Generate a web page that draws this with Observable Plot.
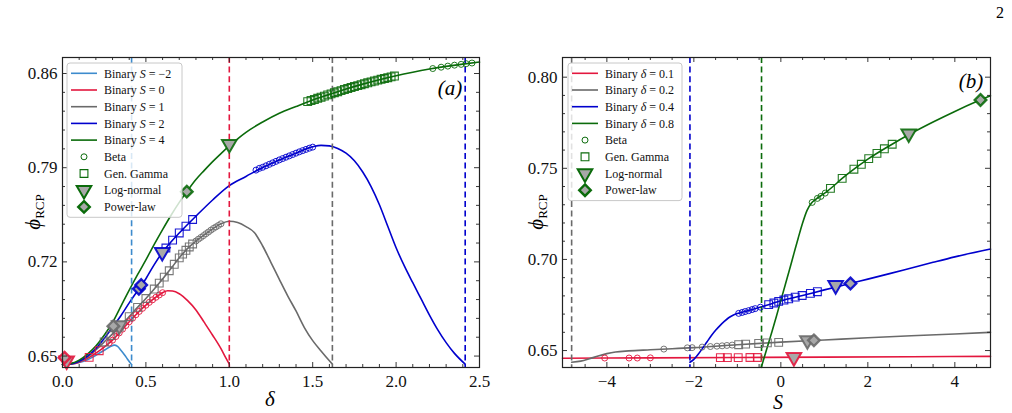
<!DOCTYPE html>
<html><head><meta charset="utf-8">
<script src="https://cdn.jsdelivr.net/npm/d3@7"></script>
<script src="https://cdn.jsdelivr.net/npm/@observablehq/plot@0.6"></script>
<style>
body{margin:0;background:#fff;}
#wrap{position:relative;width:1012px;height:413px;overflow:hidden;font-family:"Liberation Serif",serif;}
</style></head><body><div id="wrap"></div>
<script>
// ---------- Panel (a): phi_RCP vs delta ----------
const curveSm2 = [[0,0.6437],[0.05,0.6440],[0.1,0.6452],[0.15,0.6473],[0.19,0.6499],[0.25,0.6543],[0.29,0.6573],[0.31,0.6581],[0.33,0.6572],[0.35,0.6543],[0.37,0.6512],[0.39,0.6477],[0.414,0.6437]];
const curveS0 = [[0,0.6437],[0.05,0.6441],[0.1,0.6455],[0.15,0.6483],[0.2,0.6522],[0.25,0.6567],[0.3,0.6618],[0.35,0.6686],[0.4,0.6755],[0.45,0.6820],[0.5,0.6878],[0.55,0.6928],[0.6,0.6971],[0.63,0.6985],[0.66,0.6983],[0.7,0.6963],[0.75,0.6912],[0.8,0.6843],[0.85,0.6750],[0.9,0.6655],[0.95,0.6555],[0.98,0.6485],[1.0,0.6440]];
const curveS1 = [[0,0.6437],[0.05,0.6442],[0.1,0.6460],[0.15,0.6493],[0.2,0.6545],[0.25,0.6605],[0.3,0.6665],[0.35,0.6728],[0.4,0.6793],[0.45,0.6862],[0.5,0.6928],[0.55,0.6998],[0.6,0.7072],[0.65,0.7150],[0.7,0.7230],[0.75,0.7300],[0.8,0.7355],[0.85,0.7400],[0.9,0.7445],[0.95,0.7483],[1.0,0.7502],[1.05,0.7492],[1.1,0.7462],[1.15,0.7418],[1.2,0.7318],[1.25,0.7195],[1.3,0.7070],[1.35,0.6948],[1.4,0.6835],[1.45,0.6712],[1.5,0.6615],[1.55,0.6538],[1.6,0.6465],[1.618,0.6440]];
const curveS2 = [[0,0.6437],[0.05,0.6442],[0.1,0.6462],[0.15,0.6500],[0.2,0.6556],[0.25,0.6630],[0.3,0.6715],[0.35,0.6800],[0.4,0.6895],[0.45,0.6985],[0.5,0.7075],[0.55,0.7180],[0.6,0.7272],[0.65,0.7348],[0.7,0.7415],[0.8,0.7540],[0.9,0.7660],[1.0,0.7767],[1.1,0.7835],[1.2,0.7902],[1.3,0.7958],[1.4,0.8008],[1.5,0.8055],[1.55,0.8066],[1.6,0.8062],[1.65,0.8043],[1.7,0.8008],[1.75,0.7952],[1.8,0.7868],[1.85,0.7760],[1.9,0.7625],[1.95,0.7465],[2.0,0.7305],[2.05,0.7168],[2.1,0.7045],[2.15,0.6925],[2.2,0.6805],[2.25,0.6695],[2.3,0.6600],[2.35,0.6520],[2.414,0.6440]];
const curveS4 = [[0,0.6437],[0.05,0.6445],[0.1,0.6470],[0.15,0.6515],[0.2,0.6575],[0.25,0.6655],[0.3,0.6750],[0.35,0.6870],[0.4,0.6990],[0.45,0.7105],[0.5,0.7215],[0.55,0.7330],[0.6,0.7440],[0.65,0.7545],[0.7,0.7642],[0.75,0.7730],[0.8,0.7812],[0.85,0.7880],[0.9,0.7945],[0.95,0.8005],[1.0,0.8062],[1.05,0.8115],[1.1,0.8163],[1.2,0.8240],[1.3,0.8305],[1.4,0.8355],[1.5,0.8403],[1.6,0.8445],[1.7,0.8485],[1.8,0.8521],[1.9,0.8554],[2.0,0.8584],[2.1,0.8610],[2.2,0.8633],[2.3,0.8653],[2.4,0.8670],[2.5,0.8685]];

const betaS0 = [[0.28,0.6597],[0.30,0.6618],[0.32,0.6645],[0.34,0.6672],[0.36,0.6700],[0.38,0.6727],[0.40,0.6755],[0.42,0.6781],[0.44,0.6807],[0.46,0.6832],[0.48,0.6855],[0.50,0.6878],[0.52,0.6899],[0.54,0.6918],[0.56,0.6937],[0.58,0.6954],[0.60,0.6971]];
const gammaS0 = [[0.16,0.6490],[0.22,0.6540]];
const lognS0 = [[0.025,0.6466]];
const powerS0 = [[0.012,0.6488]];
const betaS1 = [[0.80,0.7355],[0.815,0.7369],[0.83,0.7382],[0.845,0.7395],[0.86,0.7409],[0.875,0.7422],[0.89,0.7436],[0.905,0.7449],[0.92,0.7460],[0.935,0.7471],[0.95,0.7483]];
const gammaS1 = [[0.25,0.6605],[0.29,0.6653],[0.34,0.6715],[0.40,0.6793],[0.45,0.6862],[0.50,0.6928],[0.55,0.6998],[0.58,0.7042],[0.61,0.7087],[0.64,0.7134],[0.67,0.7182],[0.70,0.7230],[0.72,0.7258],[0.74,0.7286],[0.76,0.7311],[0.78,0.7333]];
const lognS1 = [[0.34,0.6727]];
const powerS1 = [[0.305,0.6722]];
const betaS2 = [[1.16,0.7882],[1.18,0.7895],[1.20,0.7903],[1.22,0.7914],[1.24,0.7925],[1.26,0.7936],[1.28,0.7947],[1.30,0.7958],[1.32,0.7968],[1.34,0.7978],[1.36,0.7988],[1.38,0.7998],[1.40,0.8008],[1.42,0.8018],[1.44,0.8027],[1.46,0.8036],[1.48,0.8045],[1.50,0.8053]];
const gammaS2 = [[0.62,0.7303],[0.66,0.7362],[0.70,0.7415],[0.74,0.7465],[0.78,0.7515]];
const lognS2 = [[0.598,0.7272]];
const powerS2 = [[0.458,0.7000],[0.472,0.7028]];
const betaS4 = [[2.22,0.8637],[2.27,0.8647],[2.31,0.8655],[2.35,0.8662],[2.39,0.8668],[2.42,0.8673],[2.455,0.8678]];
const gammaS4 = [[1.47,0.8391],[1.49,0.8399],[1.51,0.8407],[1.53,0.8416],[1.55,0.8424],[1.57,0.8432],[1.59,0.8441],[1.61,0.8449],[1.63,0.8457],[1.65,0.8465],[1.67,0.8473],[1.69,0.8481],[1.71,0.8489],[1.73,0.8496],[1.75,0.8503],[1.77,0.8510],[1.79,0.8517],[1.81,0.8524],[1.83,0.8531],[1.85,0.8538],[1.87,0.8544],[1.89,0.8551],[1.91,0.8557],[1.93,0.8563],[1.95,0.8569],[1.97,0.8575],[1.99,0.8581]];
const lognS4 = [[1.0,0.8075]];
const powerS4 = [[0.745,0.7722]];
const critDelta = [0.4142, 1.0, 1.618, 2.4142];   // dashed lines S=-2,0,1,2

const aXMajor = [0, 0.5, 1.0, 1.5, 2.0, 2.5];
const aXMinor = [0.1,0.2,0.3,0.4,0.6,0.7,0.8,0.9,1.1,1.2,1.3,1.4,1.6,1.7,1.8,1.9,2.1,2.2,2.3,2.4];
const aYMajor = [0.65, 0.72, 0.79, 0.86];
const aYMinor = [0.664,0.678,0.692,0.706,0.734,0.748,0.762,0.776,0.804,0.818,0.832,0.846];

// ---------- Panel (b): phi_RCP vs S ----------
const curveD01 = [[-5.02,0.6458],[-3,0.6460],[-1,0.6462],[1,0.6464],[3,0.6466],[4.82,0.6468]];
const curveD02 = [[-4.81,0.6436],[-4.6,0.6442],[-4.4,0.6455],[-4.2,0.6470],[-4.0,0.6483],[-3.8,0.6492],[-3.5,0.6498],[-3.0,0.6504],[-2.5,0.6510],[-2.0,0.6516],[-1.0,0.6532],[0,0.6546],[1,0.6558],[2,0.6570],[3,0.6581],[4,0.6591],[4.82,0.6600]];
const curveD04 = [[-2.09,0.6436],[-2.0,0.6452],[-1.9,0.6480],[-1.8,0.6512],[-1.7,0.6547],[-1.6,0.6581],[-1.5,0.6611],[-1.4,0.6637],[-1.3,0.6660],[-1.2,0.6680],[-1.1,0.6694],[-1.0,0.6703],[-0.8,0.6716],[-0.6,0.6729],[-0.4,0.6743],[-0.2,0.6758],[0,0.6773],[0.5,0.6802],[1.0,0.6833],[1.5,0.6862],[2.0,0.6892],[2.5,0.6922],[3.0,0.6953],[3.5,0.6984],[4.0,0.7014],[4.82,0.7057]];
const curveD08 = [[-0.45,0.6408],[-0.3,0.6528],[-0.2,0.6607],[-0.1,0.6690],[0,0.6775],[0.1,0.6860],[0.2,0.6945],[0.3,0.7032],[0.4,0.7118],[0.5,0.7200],[0.6,0.7268],[0.7,0.7308],[0.8,0.7330],[1.0,0.7362],[1.5,0.7462],[2.0,0.7550],[2.5,0.7624],[3.0,0.7692],[3.5,0.7754],[4.0,0.7812],[4.5,0.7866],[4.82,0.7898]];

const betaD01 = [[-4.05,0.6459],[-3.49,0.6459],[-3.30,0.6459],[-3.00,0.6460]];
const gammaD01 = [[-1.39,0.6461],[-1.23,0.6461],[-0.98,0.6461],[-0.71,0.6462],[-0.54,0.6462]];
const lognD01 = [[0.30,0.6463]];
const betaD02 = [[-2.69,0.6508],[-2.15,0.6515],[-2.04,0.6516],[-1.81,0.6519],[-1.62,0.6522],[-1.47,0.6524],[-1.35,0.6526],[-1.24,0.6528],[-1.12,0.6530]];
const gammaD02 = [[-0.97,0.6532],[-0.81,0.6535],[-0.51,0.6539],[-0.31,0.6542],[-0.05,0.6545]];
const lognD02 = [[0.61,0.6556]];
const powerD02 = [[0.76,0.6556]];
const betaD04 = [[-0.97,0.6704],[-0.89,0.6709],[-0.82,0.6714],[-0.74,0.6719],[-0.66,0.6725],[-0.59,0.6730],[-0.47,0.6738]];
const gammaD04 = [[-0.28,0.6752],[-0.16,0.6761],[-0.05,0.6770],[0.07,0.6777],[0.18,0.6784],[0.33,0.6793],[0.49,0.6802],[0.68,0.6814],[0.84,0.6823]];
const lognD04 = [[1.26,0.6858]];
const powerD04 = [[1.6,0.6868]];
const betaD08 = [[0.72,0.7313],[0.84,0.7335],[0.92,0.7346],[1.02,0.7364]];
const gammaD08 = [[1.14,0.7390],[1.41,0.7445],[1.68,0.7495],[1.85,0.7522],[2.02,0.7553],[2.21,0.7582],[2.38,0.7607],[2.56,0.7632]];
const lognD08 = [[2.94,0.7690]];
const powerD08 = [[4.59,0.7875]];
const critS = [-4.81, -2.09, -0.444];   // dashed lines delta=0.2,0.4,0.8

const bXMajor = [-4, -2, 0, 2, 4];
const bXMinor = [-4.5,-3.5,-3,-2.5,-1.5,-1,-0.5,0.5,1,1.5,2.5,3,3.5,4.5];
const bYMajor = [0.65, 0.70, 0.75, 0.80];
const bYMinor = [0.66,0.67,0.68,0.69,0.71,0.72,0.73,0.74,0.76,0.77,0.78,0.79];

// ---------- styling ----------
const C = {lb:"#3d8bcd", red:"#e3173e", gray:"#6a6a6a", blue:"#0000cd", green:"#0b6b0b"};
const GFILL = "#a8a8a8";
const triDown = {draw(ctx, size){ const h = Math.sqrt(size/(Math.sqrt(3)*3)); const s3 = Math.sqrt(3);
  ctx.moveTo(0, 2*h); ctx.lineTo(-s3*h, -h); ctx.lineTo(s3*h, -h); ctx.closePath(); }};
const ST = {
  beta:  {symbol:"circle", r:3, fill:"none", strokeWidth:1},
  gamma: {symbol:"square", r:4.4, fill:"none", strokeWidth:1.1},
  logn:  {symbol:triDown, r:5.4, fill:GFILL, strokeWidth:2},
  power: {symbol:"diamond2", r:5.2, fill:GFILL, strokeWidth:2.4}
};

const H = 413, MT = 57, MB = 46, FH = H - MT - MB;
function panel(cfg){
  const fw = cfg.width - cfg.ml - cfg.mr;
  const marks = [];
  cfg.curves.forEach(c => marks.push(Plot.line(c.data, {x:d=>d[0], y:d=>d[1], stroke:c.color, strokeWidth:1.6, curve:"monotone-x"})));
  cfg.vlines.forEach(v => marks.push(Plot.ruleX([v.x], {x:d=>d, stroke:v.color, strokeWidth:1.6, strokeDasharray:"6,3.6"})));
  cfg.markers.forEach(m => marks.push(Plot.dot(m.data, {x:d=>d[0], y:d=>d[1], stroke:m.color, strokeOpacity:0.9, ...ST[m.kind]})));
  const tk = {stroke:"#222", strokeWidth:0.9};
  marks.push(Plot.tickX(cfg.xMajor, {x:d=>d, insetTop:FH-5, ...tk}));
  marks.push(Plot.tickX(cfg.xMajor, {x:d=>d, insetBottom:FH-5, ...tk}));
  marks.push(Plot.tickX(cfg.xMinor, {x:d=>d, insetTop:FH-3, ...tk}));
  marks.push(Plot.tickX(cfg.xMinor, {x:d=>d, insetBottom:FH-3, ...tk}));
  marks.push(Plot.tickY(cfg.yMajor, {y:d=>d, insetRight:fw-5, ...tk}));
  marks.push(Plot.tickY(cfg.yMajor, {y:d=>d, insetLeft:fw-5, ...tk}));
  marks.push(Plot.tickY(cfg.yMinor, {y:d=>d, insetRight:fw-3, ...tk}));
  marks.push(Plot.tickY(cfg.yMinor, {y:d=>d, insetLeft:fw-3, ...tk}));
  marks.push(Plot.frame({stroke:"#222", strokeWidth:1.2}));
  const svg = Plot.plot({
    width:cfg.width, height:H, marginLeft:cfg.ml, marginRight:cfg.mr, marginTop:MT, marginBottom:MB,
    x:{domain:cfg.xDomain, ticks:cfg.xMajor, tickFormat:cfg.xFmt, tickSize:0, tickPadding:7, label:null},
    y:{domain:cfg.yDomain, ticks:cfg.yMajor, tickFormat:d3.format(".2f"), tickSize:0, tickPadding:5, label:null},
    style:{fontFamily:'"Liberation Serif", serif', fontSize:"17px", background:"transparent", color:"#111", overflow:"visible"},
    marks
  });
  svg.style.position = "absolute"; svg.style.left = cfg.left + "px"; svg.style.top = "0px";
  document.getElementById("wrap").appendChild(svg);
}

panel({
  left:0, width:500, ml:62, mr:21, xDomain:[0,2.5], yDomain:[0.6415,0.8719],
  xMajor:aXMajor, xMinor:aXMinor, yMajor:aYMajor, yMinor:aYMinor, xFmt:d3.format(".1f"),
  curves:[{data:curveSm2,color:C.lb},{data:curveS0,color:C.red},{data:curveS1,color:C.gray},{data:curveS2,color:C.blue},{data:curveS4,color:C.green}],
  vlines:[{x:critDelta[0],color:C.lb},{x:critDelta[1],color:C.red},{x:critDelta[2],color:C.gray},{x:critDelta[3],color:C.blue}],
  markers:[
    {data:betaS0,color:C.red,kind:"beta"},{data:gammaS0,color:C.red,kind:"gamma"},
    {data:betaS1,color:C.gray,kind:"beta"},{data:gammaS1,color:C.gray,kind:"gamma"},
    {data:betaS2,color:C.blue,kind:"beta"},{data:gammaS2,color:C.blue,kind:"gamma"},
    {data:betaS4,color:C.green,kind:"beta"},{data:gammaS4,color:C.green,kind:"gamma"},
    {data:lognS0,color:C.red,kind:"logn"},{data:powerS0,color:C.red,kind:"power"},
    {data:lognS1,color:C.gray,kind:"logn"},{data:powerS1,color:C.gray,kind:"power"},
    {data:lognS2,color:C.blue,kind:"logn"},{data:powerS2,color:C.blue,kind:"power"},
    {data:lognS4,color:C.green,kind:"logn"},{data:powerS4,color:C.green,kind:"power"}
  ]
});
panel({
  left:500, width:512, ml:62, mr:22, xDomain:[-5.02,4.82], yDomain:[0.6407,0.8108],
  xMajor:bXMajor, xMinor:bXMinor, yMajor:bYMajor, yMinor:bYMinor, xFmt:d3.format("d"),
  curves:[{data:curveD01,color:C.red},{data:curveD02,color:C.gray},{data:curveD04,color:C.blue},{data:curveD08,color:C.green}],
  vlines:[{x:critS[0],color:C.gray},{x:critS[1],color:C.blue},{x:critS[2],color:C.green}],
  markers:[
    {data:betaD01,color:C.red,kind:"beta"},{data:gammaD01,color:C.red,kind:"gamma"},
    {data:betaD02,color:C.gray,kind:"beta"},{data:gammaD02,color:C.gray,kind:"gamma"},
    {data:betaD04,color:C.blue,kind:"beta"},{data:gammaD04,color:C.blue,kind:"gamma"},
    {data:betaD08,color:C.green,kind:"beta"},{data:gammaD08,color:C.green,kind:"gamma"},
    {data:lognD01,color:C.red,kind:"logn"},
    {data:lognD02,color:C.gray,kind:"logn"},{data:powerD02,color:C.gray,kind:"power"},
    {data:lognD04,color:C.blue,kind:"logn"},{data:powerD04,color:C.blue,kind:"power"},
    {data:lognD08,color:C.green,kind:"logn"},{data:powerD08,color:C.green,kind:"power"}
  ]
});

// ---------- overlay: labels & legends ----------
const ov = d3.select("#wrap").append("svg").attr("width",1012).attr("height",413)
  .style("position","absolute").style("left","0px").style("top","0px")
  .style("font-family",'"Liberation Serif", serif');
ov.append("text").attr("x",1004).attr("y",18).attr("text-anchor","end").attr("font-size",16).text("2");
function ylab(x,y){
  const t = ov.append("text").attr("transform",`translate(${x},${y}) rotate(-90)`).attr("text-anchor","middle");
  t.append("tspan").attr("font-style","italic").attr("font-size",21).text("ϕ");
  t.append("tspan").attr("font-size",13).attr("dy",4).text("RCP");
}
ylab(40,212); ylab(543,212);
ov.append("text").attr("x",270).attr("y",406).attr("text-anchor","middle").attr("font-style","italic").attr("font-size",21).text("δ");
ov.append("text").attr("x",778).attr("y",409).attr("text-anchor","middle").attr("font-style","italic").attr("font-size",20).text("S");
ov.append("text").attr("x",450).attr("y",95).attr("text-anchor","middle").attr("font-style","italic").attr("font-size",21).text("(a)");
ov.append("text").attr("x",971).attr("y",88).attr("text-anchor","middle").attr("font-style","italic").attr("font-size",21).text("(b)");

const legendA = [
  {kind:"line",color:C.lb,pre:"Binary ",v:"S",post:" = −2"},
  {kind:"line",color:C.red,pre:"Binary ",v:"S",post:" = 0"},
  {kind:"line",color:C.gray,pre:"Binary ",v:"S",post:" = 1"},
  {kind:"line",color:C.blue,pre:"Binary ",v:"S",post:" = 2"},
  {kind:"line",color:C.green,pre:"Binary ",v:"S",post:" = 4"},
  {kind:"beta",color:C.green,pre:"Beta"},
  {kind:"gamma",color:C.green,pre:"Gen. Gamma"},
  {kind:"logn",color:C.green,pre:"Log-normal"},
  {kind:"power",color:C.green,pre:"Power-law"}
];
const legendB = [
  {kind:"line",color:C.red,pre:"Binary ",v:"δ",post:" = 0.1"},
  {kind:"line",color:C.gray,pre:"Binary ",v:"δ",post:" = 0.2"},
  {kind:"line",color:C.blue,pre:"Binary ",v:"δ",post:" = 0.4"},
  {kind:"line",color:C.green,pre:"Binary ",v:"δ",post:" = 0.8"},
  {kind:"beta",color:C.green,pre:"Beta"},
  {kind:"gamma",color:C.green,pre:"Gen. Gamma"},
  {kind:"logn",color:C.green,pre:"Log-normal"},
  {kind:"power",color:C.green,pre:"Power-law"}
];
const symType = {beta:d3.symbolCircle, gamma:d3.symbolSquare, logn:triDown, power:d3.symbolDiamond2};
function legend(x0,y0,w,entries){
  const g = ov.append("g");
  const h = entries.length*16.7 + 4;
  g.append("rect").attr("x",x0).attr("y",y0).attr("width",w).attr("height",h).attr("rx",3)
    .attr("fill","rgba(255,255,255,0.8)").attr("stroke","#c8c8c8").attr("stroke-width",1);
  entries.forEach((e,i)=>{
    const cy = y0 + 10.3 + i*16.7;
    if (e.kind==="line") {
      g.append("line").attr("x1",x0+4).attr("x2",x0+30).attr("y1",cy).attr("y2",cy).attr("stroke",e.color).attr("stroke-width",1.6);
    } else {
      const st = ST[e.kind];
      g.append("path").attr("d", d3.symbol(symType[e.kind], Math.PI*st.r*st.r)())
        .attr("transform",`translate(${x0+17},${cy})`).attr("fill",st.fill).attr("stroke",e.color).attr("stroke-width",st.strokeWidth);
    }
    const t = g.append("text").attr("x",x0+37).attr("y",cy).attr("dy","0.35em").attr("font-size",12).attr("fill","#111");
    t.append("tspan").text(e.pre);
    if (e.v) { t.append("tspan").attr("font-style","italic").text(e.v); t.append("tspan").text(e.post); }
  });
}
legend(67,63,115,legendA);
legend(568,63,114,legendB);
</script></body></html>
